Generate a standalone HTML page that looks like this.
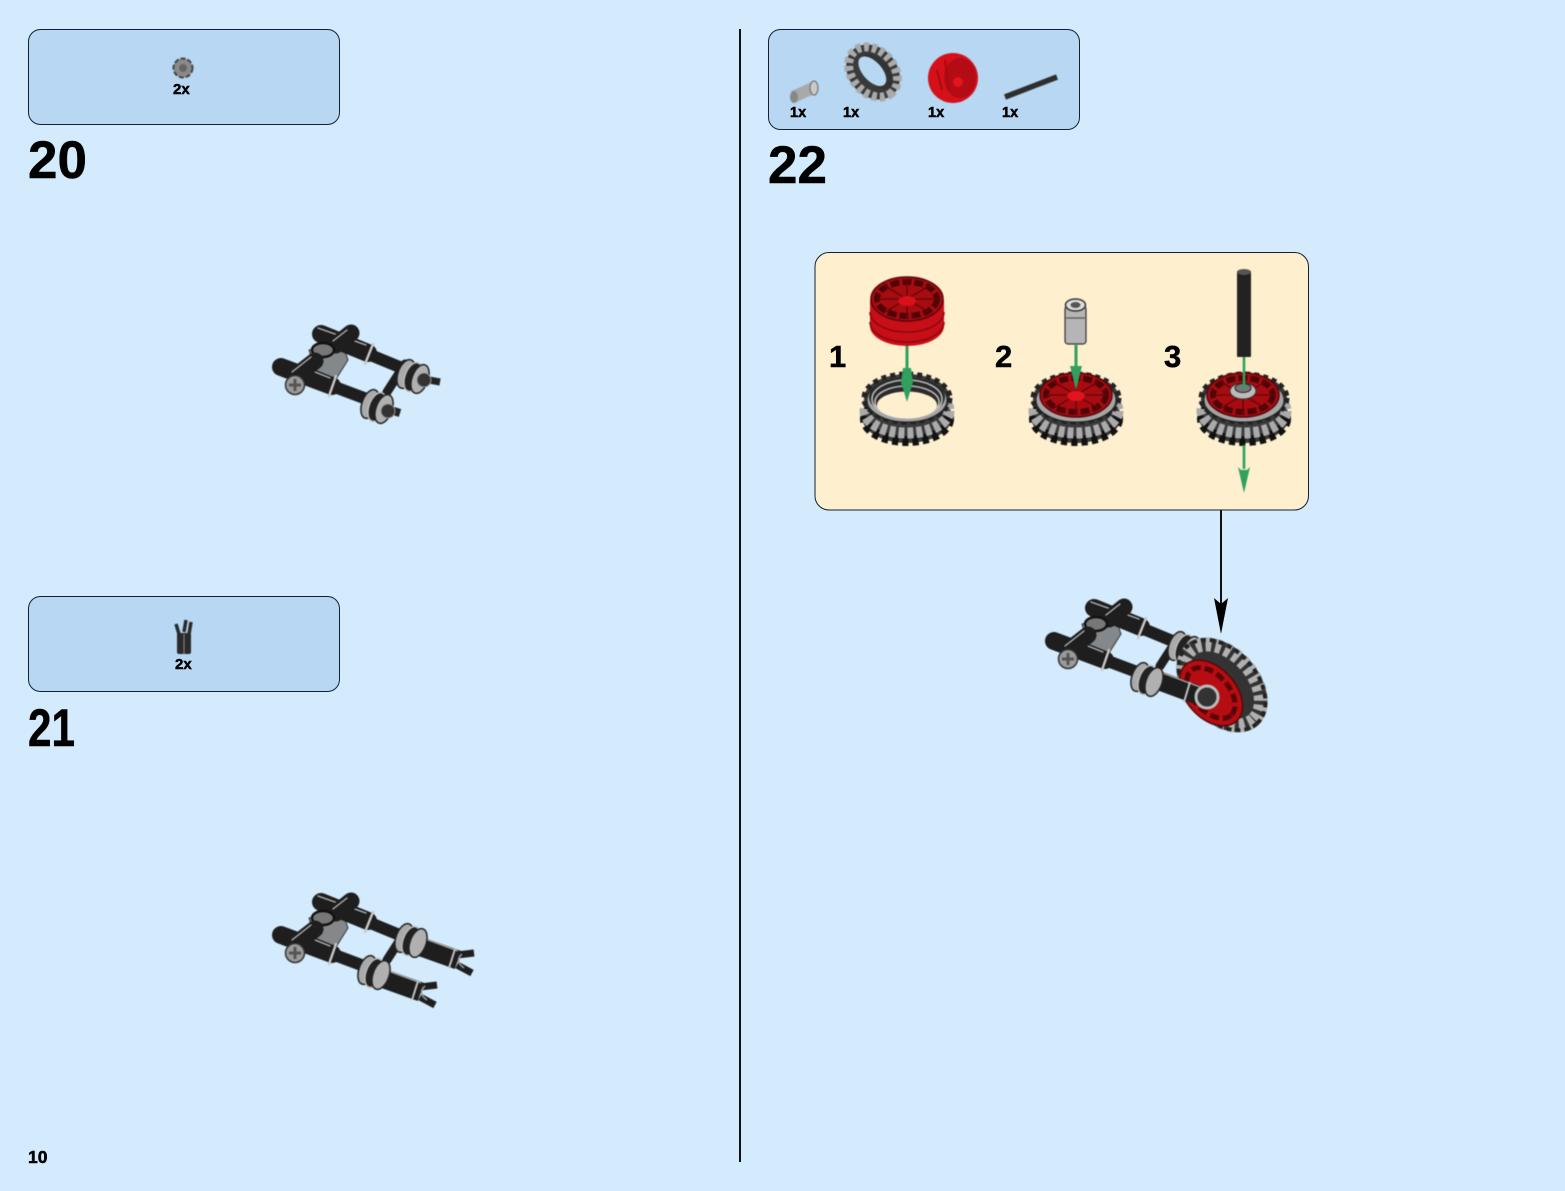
<!DOCTYPE html>
<html><head><meta charset="utf-8">
<style>
html,body{margin:0;padding:0;background:#d3ebfc}
svg{display:block}
text{font-family:"Liberation Sans",sans-serif;font-weight:bold;fill:#000;stroke:#000;stroke-width:.5px}
.art{filter:blur(.5px)}
</style></head><body>
<svg width="1565" height="1191" viewBox="0 0 1565 1191" xmlns="http://www.w3.org/2000/svg">
<defs>
<g id="frame" fill="none" stroke-linecap="round">
  <polygon points="309,350 342,343 348,360 336,379 315,370" fill="#85888a" stroke="#333" stroke-width="1"/>
  <line x1="368" y1="354" x2="402" y2="368" stroke="#1e1e1e" stroke-width="12"/>
  <line x1="321" y1="334" x2="368" y2="353" stroke="#1e1e1e" stroke-width="18"/>
  <line x1="318" y1="328" x2="366" y2="345" stroke="#b5b5b5" stroke-width="1.4"/>
  <line x1="373" y1="344" x2="365" y2="364" stroke="#c8c8c8" stroke-width="2.4"/>
  <line x1="351" y1="333" x2="336" y2="345" stroke="#1e1e1e" stroke-width="17"/>
  <line x1="347" y1="330" x2="333" y2="341" stroke="#b5b5b5" stroke-width="1.3"/>
  <ellipse cx="323" cy="350" rx="11" ry="7" fill="#777" stroke="#111" stroke-width="2.4"/>
  <line x1="332" y1="386" x2="372" y2="401" stroke="#1e1e1e" stroke-width="12"/>
  <line x1="281" y1="367" x2="332" y2="386" stroke="#1e1e1e" stroke-width="18"/>
  <line x1="300" y1="366" x2="330" y2="378" stroke="#b5b5b5" stroke-width="1.4"/>
  <line x1="336" y1="376" x2="329" y2="396" stroke="#c8c8c8" stroke-width="2.4"/>
  <line x1="315" y1="361" x2="297" y2="375" stroke="#1e1e1e" stroke-width="17"/>
  <line x1="311" y1="357" x2="292" y2="372" stroke="#b5b5b5" stroke-width="1.3"/>
  <line x1="405" y1="364" x2="387" y2="392" stroke="#1e1e1e" stroke-width="9"/>
  <circle cx="295" cy="385" r="9.5" fill="#9a9a9a" stroke="#333" stroke-width="1.5"/>
  <path d="M289 385h12M295 379v12" stroke="#555" stroke-width="3" stroke-linecap="butt"/>
</g>
<g id="bush">
  <ellipse cx="-8" cy="-3" rx="8" ry="15" transform="rotate(20 -8 -3)" fill="#aaa" stroke="#222" stroke-width="1.5"/>
  <ellipse cx="-1" cy="0" rx="8" ry="15" transform="rotate(20 -1 0)" fill="#222" stroke="#bbb" stroke-width="1.5"/>
  <ellipse cx="6" cy="2" rx="8" ry="15" transform="rotate(20 6 2)" fill="#b0b0b0" stroke="#222" stroke-width="1.5"/>
</g>
<g id="clipbeam" fill="none">
  <line x1="4" y1="2" x2="46" y2="17" stroke="#1e1e1e" stroke-width="19"/>
  <line x1="8" y1="-6" x2="46" y2="8" stroke="#aaa" stroke-width="1.3"/>
  <line x1="43" y1="6" x2="37" y2="25" stroke="#c0c0c0" stroke-width="2"/>
  <path d="M45 12 L62 10 M45 22 L60 30" stroke="#1e1e1e" stroke-width="7"/>
  <path d="M50 11 Q42 18 52 25" stroke="#999" stroke-width="1.5"/>
</g>
<g id="tyrebase">
  <ellipse cx="0" cy="10" rx="45" ry="26" fill="#3a3a3a"/>
  <ellipse cx="0" cy="12" rx="42" ry="22" fill="none" stroke="#111" stroke-width="10" stroke-dasharray="6 4"/>
  <ellipse cx="0" cy="4" rx="42" ry="22" fill="none" stroke="#aaa" stroke-width="11" stroke-dasharray="6 3"/>
  <ellipse cx="0" cy="-9" rx="43" ry="24" fill="#3a3a3a" stroke="#222" stroke-width="5" stroke-dasharray="5 4"/>
  <ellipse cx="0" cy="-7" rx="40" ry="22" fill="#a5a5a5" stroke="#222" stroke-width="1"/>
</g>
<g id="rim">
  <ellipse cx="0" cy="0" rx="36" ry="22" fill="#a80c11" stroke="#5a0508" stroke-width="1.5"/>
  <ellipse cx="0" cy="0" rx="30" ry="17" fill="none" stroke="#4f0407" stroke-width="6" stroke-dasharray="9 3"/>
  <path d="M0 -20V20M-30 0H30M-22 -13L22 13M-22 13L22 -13" stroke="#6a0609" stroke-width="1.5"/>
</g>
</defs>

<rect width="1565" height="1191" fill="#d3ebfc"/>
<rect x="739" y="29" width="2" height="1133" fill="#111"/>

<rect x="28.5" y="29.5" width="311" height="95" rx="12" fill="#b7d7f2" stroke="#14222e" stroke-width="1"/>
<rect x="28.5" y="596.5" width="311" height="95" rx="12" fill="#b7d7f2" stroke="#14222e" stroke-width="1"/>
<rect x="768.5" y="29.5" width="311" height="100" rx="12" fill="#b7d7f2" stroke="#14222e" stroke-width="1"/>
<rect x="815" y="252.5" width="493.5" height="257.5" rx="14" fill="#feefcf" stroke="#14222e" stroke-width="1"/>

<text x="28" y="178" font-size="53">20</text>
<text x="28" y="746" font-size="53" textLength="47" lengthAdjust="spacingAndGlyphs">21</text>
<text x="768" y="183" font-size="53">22</text>
<text x="28" y="1163" font-size="17.5">10</text>
<text x="173" y="94" font-size="15">2x</text>
<text x="175" y="669" font-size="15">2x</text>
<text x="790" y="117" font-size="14.5">1x</text>
<text x="843" y="117" font-size="14.5">1x</text>
<text x="928" y="117" font-size="14.5">1x</text>
<text x="1002" y="117" font-size="14.5">1x</text>
<text x="829" y="367" font-size="31">1</text>
<text x="995" y="367" font-size="31">2</text>
<text x="1164" y="367" font-size="31">3</text>

<g class="art">
  <!-- parts icons -->
  <g>
    <circle cx="183" cy="68" r="9.5" fill="#8a8a8a" stroke="#444" stroke-width="2" stroke-dasharray="5 2"/>
    <circle cx="183" cy="68" r="4" fill="#666"/>
  </g>
  <g>
    <rect x="177" y="633" width="14" height="21" rx="2" fill="#2a2a2a"/>
    <line x1="184" y1="634" x2="184" y2="654" stroke="#888" stroke-width="1"/>
    <path d="M179 634 L176 624 M189 634 L191 622 M184 632 L186 620" stroke="#2a2a2a" stroke-width="3.5" fill="none"/>
  </g>
  <g>
    <line x1="793" y1="97" x2="815" y2="87" stroke="#a9a9a9" stroke-width="12"/>
    <ellipse cx="814" cy="88" rx="4" ry="7" fill="#c9c9c9" stroke="#666"/>
    <ellipse cx="794" cy="97" rx="4" ry="6" fill="#888"/>
  </g>
  <g transform="rotate(48 873 72)">
    <ellipse cx="873" cy="72" rx="30" ry="24" fill="#3a3a3a"/>
    <ellipse cx="873" cy="72" rx="28" ry="21" fill="none" stroke="#aaa" stroke-width="9" stroke-dasharray="5 3"/>
    <ellipse cx="875" cy="69" rx="21" ry="12" fill="#333"/>
    <ellipse cx="872" cy="72" rx="18" ry="9.5" fill="#b7d7f2"/>
  </g>
  <g>
    <ellipse cx="953" cy="78" rx="25" ry="25" fill="#d5101a"/>
    <ellipse cx="960" cy="78" rx="16" ry="20" fill="#b30c14"/>
    <circle cx="958" cy="82" r="5" fill="#e2141e"/>
    <path d="M945 60l4 30M937 70l5 20" stroke="#a50a10" stroke-width="2"/>
  </g>
  <line x1="1005" y1="97" x2="1057" y2="77" stroke="#2e2e2e" stroke-width="5.5"/>

  <!-- step 20 -->
  <use href="#frame"/>
  <line x1="418" y1="378" x2="440" y2="382" stroke="#222" stroke-width="7"/>
  <line x1="384" y1="408" x2="400" y2="413" stroke="#222" stroke-width="8"/>
  <use href="#bush" x="414" y="377"/>
  <use href="#bush" x="378" y="407"/>
  <circle cx="424" cy="380" r="7" fill="#333" stroke="#999"/>
  <circle cx="388" cy="411" r="7" fill="#333" stroke="#999"/>

  <!-- step 21 -->
  <use href="#frame" y="568"/>
  <use href="#clipbeam" x="412" y="943"/>
  <use href="#clipbeam" x="375" y="975"/>
  <use href="#bush" x="412" y="941"/>
  <use href="#bush" x="375" y="973"/>

  <!-- step 22 assembly -->
  <use href="#frame" x="773" y="274"/>
  <use href="#bush" x="1185" y="649"/>
  <g transform="rotate(48 1222 685)">
    <ellipse cx="1222" cy="685" rx="54" ry="37" fill="#333"/>
    <ellipse cx="1222" cy="685" rx="47" ry="31" fill="none" stroke="#b0b0b0" stroke-width="14" stroke-dasharray="6 4"/>
    <ellipse cx="1222" cy="685" rx="52" ry="35" fill="none" stroke="#222" stroke-width="4" stroke-dasharray="5 4"/>
  </g>
  <g transform="rotate(48 1211 693)">
    <ellipse cx="1211" cy="693" rx="38" ry="25" fill="#b50d12" stroke="#5a0508" stroke-width="1.5"/>
    <ellipse cx="1211" cy="693" rx="30" ry="18" fill="none" stroke="#5a0508" stroke-width="5" stroke-dasharray="9 4"/>
  </g>
  <line x1="1157" y1="680" x2="1203" y2="697" stroke="#1e1e1e" stroke-width="19"/>
  <line x1="1160" y1="672" x2="1200" y2="687" stroke="#aaa" stroke-width="1.3"/>
  <line x1="1190" y1="682" x2="1184" y2="702" stroke="#c0c0c0" stroke-width="2"/>
  <circle cx="1207" cy="697" r="11" fill="#333" stroke="#bbb" stroke-width="3"/>
  <use href="#bush" x="1148" y="680"/>

  <!-- inset step 1 -->
  <use href="#tyrebase" x="907" y="407"/>
  <ellipse cx="907" cy="397" rx="38" ry="20" fill="#2a2a2a"/>
  <ellipse cx="907" cy="399" rx="35" ry="19" fill="none" stroke="#bbb" stroke-width="1.6"/>
  <ellipse cx="907" cy="402" rx="32" ry="16" fill="none" stroke="#bbb" stroke-width="1.6"/>
  <ellipse cx="907" cy="405" rx="30" ry="13.5" fill="#feefcf"/>
  <rect x="905.5" y="345" width="3" height="30" fill="#2fa05d"/>
  <polygon points="907,402 901,382 903,368 911,368 913,382" fill="#2fa05d"/>
  <path d="M870 300 V326 A37 20 0 0 0 944 326 V300 Z" fill="#c80e17"/>
  <path d="M870 312 A37 20 0 0 0 944 312 M870 322 A37 20 0 0 0 944 322" fill="none" stroke="#8a0a0f" stroke-width="1.6"/>
  <use href="#rim" x="907" y="299"/>
  <ellipse cx="907" cy="301" rx="9" ry="5" fill="#d8101a"/>

  <!-- inset step 2 -->
  <use href="#tyrebase" x="1076" y="407"/>
  <use href="#rim" x="1076" y="395"/>
  <ellipse cx="1076" cy="396" rx="9" ry="5" fill="#e2141e"/>
  <rect x="1074.5" y="345" width="3" height="32" fill="#2fa05d"/>
  <polygon points="1076,390 1070,366 1082,366" fill="#2fa05d"/>
  <rect x="1065" y="306" width="21" height="38" rx="3" fill="#b5b5b5" stroke="#333" stroke-width="1.2"/>
  <ellipse cx="1075.5" cy="305" rx="10" ry="6" fill="#ddd" stroke="#333" stroke-width="1.5"/>
  <ellipse cx="1075.5" cy="305" rx="5" ry="3" fill="#555"/>
  <path d="M1066 318H1085" stroke="#555" stroke-width="1.2"/>

  <!-- inset step 3 -->
  <use href="#tyrebase" x="1244" y="407"/>
  <use href="#rim" x="1243" y="395"/>
  <ellipse cx="1243" cy="391" rx="13" ry="8" fill="#bbb" stroke="#333" stroke-width="1"/>
  <ellipse cx="1243" cy="388" rx="8" ry="4.5" fill="#777" stroke="#222"/>
  <rect x="1237" y="271" width="14" height="86" rx="1" fill="#222"/>
  <ellipse cx="1244" cy="272" rx="7" ry="3" fill="#555"/>
  <rect x="1242.7" y="357" width="2.6" height="32" fill="#2fa05d"/>
  <rect x="1242.7" y="445" width="2.6" height="24" fill="#2fa05d"/>
  <polygon points="1244,493 1238,467 1241,470 1247,470 1250,467" fill="#2fa05d"/>
</g>

<!-- main arrow -->
<rect x="1220" y="510" width="2" height="95" fill="#111"/>
<polygon points="1221,634 1214,598 1221,604 1228,598" fill="#000"/>
</svg>
</body></html>
